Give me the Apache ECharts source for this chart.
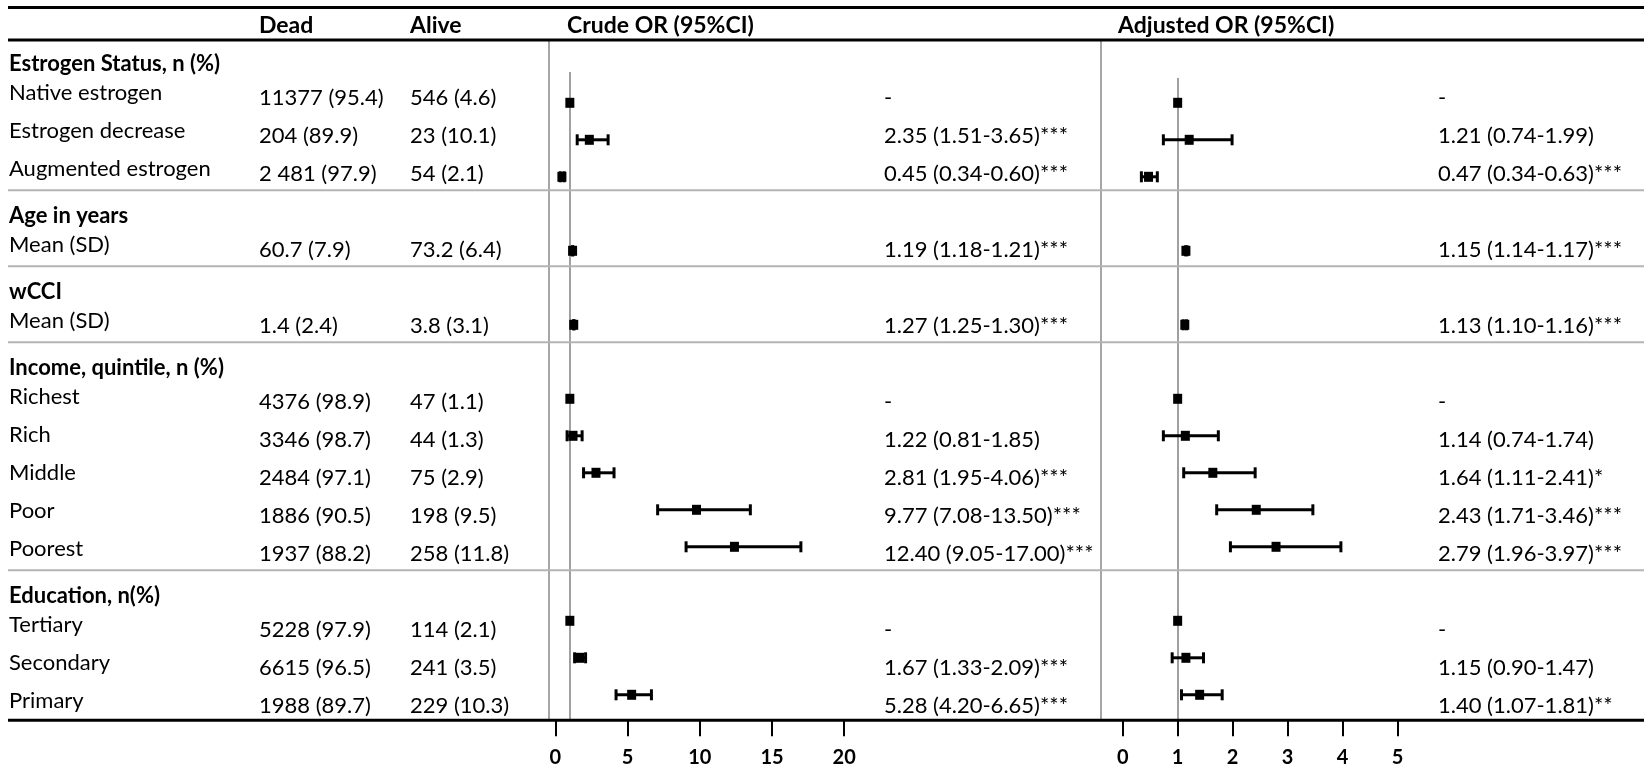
<!DOCTYPE html>
<html>
<head>
<meta charset="utf-8">
<script src="https://cdn.jsdelivr.net/npm/echarts@6/dist/echarts.min.js"></script>
<style>
  html, body { margin: 0; padding: 0; background: #fff; }
  #main { width: 1644px; height: 772px; }
</style>
</head>
<body>
<div id="main"></div>
<script>
// table rows (section headers are in headerRows)
var rowLabels = ['Estrogen Status, n (%)', 'Native estrogen', 'Estrogen decrease', 'Augmented estrogen',
  'Age in years', 'Mean (SD)', 'wCCI', 'Mean (SD)',
  'Income, quintile, n (%)', 'Richest', 'Rich', 'Middle', 'Poor', 'Poorest',
  'Education, n(%)', 'Tertiary', 'Secondary', 'Primary'];
var headerRows = [0, 4, 6, 8, 14];
var deadCol = ['', '11377 (95.4)', '204 (89.9)', '2 481 (97.9)', '', '60.7 (7.9)', '', '1.4 (2.4)',
  '', '4376 (98.9)', '3346 (98.7)', '2484 (97.1)', '1886 (90.5)', '1937 (88.2)',
  '', '5228 (97.9)', '6615 (96.5)', '1988 (89.7)'];
var aliveCol = ['', '546 (4.6)', '23 (10.1)', '54 (2.1)', '', '73.2 (6.4)', '', '3.8 (3.1)',
  '', '47 (1.1)', '44 (1.3)', '75 (2.9)', '198 (9.5)', '258 (11.8)',
  '', '114 (2.1)', '241 (3.5)', '229 (10.3)'];
var crudeText = ['', '-', '2.35 (1.51-3.65)***', '0.45 (0.34-0.60)***', '', '1.19 (1.18-1.21)***', '', '1.27 (1.25-1.30)***',
  '', '-', '1.22 (0.81-1.85)', '2.81 (1.95-4.06)***', '9.77 (7.08-13.50)***', '12.40 (9.05-17.00)***',
  '', '-', '1.67 (1.33-2.09)***', '5.28 (4.20-6.65)***'];
var adjText = ['', '-', '1.21 (0.74-1.99)', '0.47 (0.34-0.63)***', '', '1.15 (1.14-1.17)***', '', '1.13 (1.10-1.16)***',
  '', '-', '1.14 (0.74-1.74)', '1.64 (1.11-2.41)*', '2.43 (1.71-3.46)***', '2.79 (1.96-3.97)***',
  '', '-', '1.15 (0.90-1.47)', '1.40 (1.07-1.81)**'];

var crudeOR   = [null, 1, 2.35, 0.45, null, 1.19, null, 1.27, null, 1, 1.22, 2.81, 9.77, 12.40, null, 1, 1.67, 5.28];
var crudeLow  = [null, 1, 1.51, 0.34, null, 1.18, null, 1.25, null, 1, 0.81, 1.95, 7.08, 9.05, null, 1, 1.33, 4.20];
var crudeHigh = [null, 1, 3.65, 0.60, null, 1.21, null, 1.30, null, 1, 1.85, 4.06, 13.50, 17.00, null, 1, 2.09, 6.65];
var adjOR   = [null, 1, 1.21, 0.47, null, 1.15, null, 1.13, null, 1, 1.14, 1.64, 2.43, 2.79, null, 1, 1.15, 1.40];
var adjLow  = [null, 1, 0.74, 0.34, null, 1.14, null, 1.10, null, 1, 0.74, 1.11, 1.71, 1.96, null, 1, 0.90, 1.07];
var adjHigh = [null, 1, 1.99, 0.63, null, 1.17, null, 1.16, null, 1, 1.74, 2.41, 3.46, 3.97, null, 1, 1.47, 1.81];

var crudeTicks = [0, 5, 10, 15, 20];
var adjTicks = [0, 1, 2, 3, 4, 5];
var headers = ['Dead', 'Alive', 'Crude OR (95%CI)', 'Adjusted OR (95%CI)'];

// layout
var FONT = 'Lato, "Open Sans", sans-serif';
var FS = 22;
var TOP = 36.3, PITCH = 38, NROW = rowLabels.length;
var BOTTOM = TOP + PITCH * NROW;          // thick bottom rule / x axes
var MK_ROW0 = 65.8, MK_PITCH = 37;        // marker rows
var headerX = [259, 410, 567, 1118];
var textCols = [
  { x: 9, data: rowLabels, shift: 0 },
  { x: 259, data: deadCol, shift: 10 },
  { x: 410, data: aliveCol, shift: 10 },
  { x: 884, data: crudeText, shift: 10 },
  { x: 1438, data: adjText, shift: 10 }
];
var plots = [
  { left: 555.4, width: 288.8, top: 72, ticks: crudeTicks, or: crudeOR, lo: crudeLow, hi: crudeHigh },
  { left: 1122.7, width: 274.8, top: 78, ticks: adjTicks, or: adjOR, lo: adjLow, hi: adjHigh }
];

var chartDom = document.getElementById('main');
var myChart = echarts.init(chartDom);

var grid = [], xAxis = [], yAxis = [], series = [];

textCols.forEach(function (col, i) {
  grid.push({ left: col.x, width: 1, top: TOP, height: PITCH * NROW, outerBoundsMode: 'none', containLabel: false });
  xAxis.push({ gridIndex: i, type: 'value', show: false });
  yAxis.push({
    gridIndex: i, type: 'category', inverse: true, data: col.data,
    axisLine: { show: false }, axisTick: { show: false }, splitLine: { show: false },
    axisLabel: {
      inside: true, margin: 0, interval: 0, align: 'left',
      color: '#000', fontFamily: FONT, fontSize: FS,
      padding: [col.shift, 0, 0, 0],
      formatter: i === 0 ? function (v, idx) {
        return headerRows.indexOf(idx) >= 0 ? '{h|' + v + '}' : v;
      } : null,
      rich: { h: { fontWeight: 'bold', fontFamily: FONT, fontSize: FS, color: '#000', padding: [18, 0, 0, 0] } }
    }
  });
});

function renderCI(params, api) {
  var y = api.value(3);
  var lo = api.coord([api.value(1), y]);
  var hi = api.coord([api.value(2), y]);
  var cap = 11, st = { stroke: '#000', lineWidth: 3 };
  if (hi[0] - lo[0] < 0.01) return { type: 'group', children: [] };
  return {
    type: 'group',
    children: [
      { type: 'line', shape: { x1: lo[0], y1: lo[1], x2: hi[0], y2: hi[1] }, style: st },
      { type: 'line', shape: { x1: lo[0], y1: lo[1] - cap / 2, x2: lo[0], y2: lo[1] + cap / 2 }, style: st },
      { type: 'line', shape: { x1: hi[0], y1: hi[1] - cap / 2, x2: hi[0], y2: hi[1] + cap / 2 }, style: st }
    ]
  };
}

plots.forEach(function (p, k) {
  var gi = textCols.length + k;
  var ticks = p.ticks;
  grid.push({ left: p.left, width: p.width, top: p.top, height: BOTTOM - p.top, outerBoundsMode: 'none', containLabel: false });
  xAxis.push({
    gridIndex: gi, type: 'value', min: ticks[0], max: ticks[ticks.length - 1], interval: ticks[1] - ticks[0],
    axisLine: { show: false },
    axisTick: { show: true, length: 16, lineStyle: { color: '#000', width: 2 } },
    splitLine: { show: false },
    axisLabel: { color: '#000', fontFamily: FONT, fontSize: 20, fontWeight: 'bold', margin: 27 }
  });
  yAxis.push({
    gridIndex: gi, type: 'value', inverse: true, show: false,
    min: (p.top - MK_ROW0) / MK_PITCH, max: (BOTTOM - MK_ROW0) / MK_PITCH
  });
  var ci = [], pts = [];
  p.or.forEach(function (v, r) {
    if (v === null) return;
    ci.push([v, p.lo[r], p.hi[r], r]);
    pts.push([v, r]);
  });
  // reference line at OR = 1, kept beneath the marks
  series.push({
    type: 'scatter', xAxisIndex: gi, yAxisIndex: gi, data: [], silent: true, z: 1,
    markLine: {
      silent: true, symbol: 'none', label: { show: false }, z: 1,
      lineStyle: { color: '#a0a0a0', width: 2, type: 'solid' },
      data: [{ xAxis: 1 }]
    }
  });
  series.push({
    type: 'custom', xAxisIndex: gi, yAxisIndex: gi, renderItem: renderCI,
    encode: { x: [0, 1, 2], y: 3 }, data: ci, silent: true, z: 3
  });
  series.push({
    type: 'scatter', xAxisIndex: gi, yAxisIndex: gi, data: pts, silent: true, z: 6,
    symbol: 'rect', symbolSize: [9, 10], itemStyle: { color: '#000', opacity: 1 }
  });
});

// table rules
var W = 1644;
function hline(y, w, c) {
  return { type: 'line', shape: { x1: 8, y1: y, x2: W, y2: y }, style: { stroke: c, lineWidth: w }, z: 10 };
}
function vline(x) {
  return { type: 'line', shape: { x1: x, y1: 41, x2: x, y2: BOTTOM }, style: { stroke: '#a6a6a6', lineWidth: 2 }, z: 1 };
}
var graphic = [hline(7.5, 3, '#000'), hline(40, 3, '#000'), hline(BOTTOM, 3, '#000'), vline(549), vline(1101)];
headerRows.slice(1).forEach(function (r) {
  graphic.push(hline(TOP + PITCH * r + 2, 2, '#b4b4b4'));
});

var option = {
  backgroundColor: '#fff',
  animation: false,
  title: headers.map(function (t, i) {
    return {
      text: t, left: headerX[i], top: 14, padding: 0,
      textStyle: { color: '#000', fontFamily: FONT, fontSize: 23, fontWeight: 'bold' }
    };
  }),
  graphic: graphic,
  grid: grid,
  xAxis: xAxis,
  yAxis: yAxis,
  series: series
};

option && myChart.setOption(option);
</script>
</body>
</html>
